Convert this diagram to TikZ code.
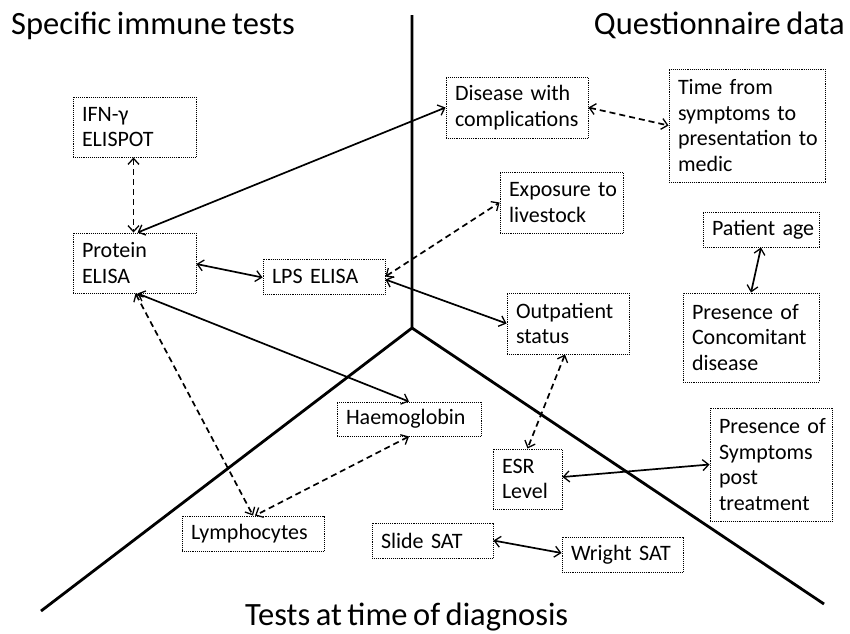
\documentclass[tikz,border=0pt]{standalone}
\usepackage{fontspec}
\setmainfont{Carlito}[WordSpace=0.75]
\usetikzlibrary{arrows.meta}
\begin{document}
\begin{tikzpicture}[x=1pt,y=-1pt,
  box/.style={draw, densely dotted, line width=0.9pt, inner xsep=9pt, inner ysep=0pt,
    align=left, font=\fontsize{22}{25.7}\selectfont},
  bx/.style n args={2}{box, text width=#1pt-18pt, minimum height=#2pt},
  link/.style={line width=1.7pt, {Straight Barb[length=6pt,width=11pt,line width=1.3pt]}-{Straight Barb[length=6pt,width=11pt,line width=1.3pt]}},
  dlink/.style={link, dash pattern=on 6pt off 4pt},
  axis/.style={line width=2.8pt},
  title/.style={inner sep=0pt, font=\fontsize{32.5}{38}\selectfont}]
\useasboundingbox (0,0) rectangle (850,633);
% axes
\coordinate (top) at (412,15);
\coordinate (ctr) at (412,328);
\coordinate (ll) at (41,611);
\coordinate (lr) at (824,604);
\draw[axis] (top) -- (ctr) -- (ll);
\draw[axis] (ctr) -- (lr);
% titles
\node[title, anchor=base west] (t1) at (11,34) {Specific immune tests};
\node[title, anchor=base east] (t2) at (845,34) {Questionnaire data};
\node[title, anchor=base west] (t3) at (245,625) {Tests at time of diagnosis};
% boxes
\node[bx={123}{60}] (ifn) at (134.5,127) {IFN-γ\\ELISPOT};
\node[bx={123}{60}] (prot) at (134.5,263) {Protein\\ELISA};
\node[bx={122}{35}] (lps) at (324,276.5) {\mbox{LPS ELISA}};
\node[bx={142}{61}] (dis) at (517,107.5) {\mbox{Disease with}\\complications};
\node[bx={156}{113}] (time) at (747,125.5) {\mbox{Time from}\\\mbox{symptoms to}\\\mbox{presentation to}\\medic};
\node[bx={123}{61}] (exp) at (561.5,202.5) {\mbox{Exposure to}\\livestock};
\node[bx={116}{35}] (age) at (761,229.5) {\mbox{Patient age}};
\node[bx={122}{61}] (out) at (568,323.5) {Outpatient\\status};
\node[bx={136}{89}] (conc) at (751,337.5) {\mbox{Presence of}\\Concomitant\\disease};
\node[bx={144}{34}] (hae) at (409,419) {Haemoglobin};
\node[bx={142}{35}] (lym) at (253,533.5) {Lymphocytes};
\node[bx={69}{60}] (esr) at (527.5,479) {ESR\\Level};
\node[bx={121}{35}] (slide) at (432.5,540.5) {\mbox{Slide SAT}};
\node[bx={122}{113}] (sym) at (771,464.5) {\mbox{Presence of}\\Symptoms\\post\\treatment};
\node[bx={121}{35}] (wright) at (622.5,554.5) {\mbox{Wright SAT}};
% connectors
\draw[dlink] ([xshift=-1pt]ifn.south) -- ([xshift=-1pt]prot.north);
\draw[link] (dis.west) -- ([xshift=3pt]prot.north);
\draw[link] ([yshift=-1pt]prot.east) -- ([yshift=-1pt]lps.west);
\draw[dlink] (lps.east) -- (exp.west);
\draw[link] ([yshift=-3pt]lps.east) -- (out.west);
\draw[link] ([xshift=3pt]prot.south) -- (hae.north);
\draw[dlink] ([xshift=1pt]prot.south) -- (lym.north);
\draw[dlink] (hae.south) -- ([xshift=2pt]lym.north);
\draw[dlink] ([xshift=-3pt]out.south) -- (esr.north);
\draw[link] ([yshift=2pt]esr.east) -- (sym.west);
\draw[link] (slide.east) -- ([yshift=1.5pt]wright.west);
\draw[dlink] (dis.east) -- (time.west);
\draw[link] (age.south) -- (conc.north);
\end{tikzpicture}
\end{document}
